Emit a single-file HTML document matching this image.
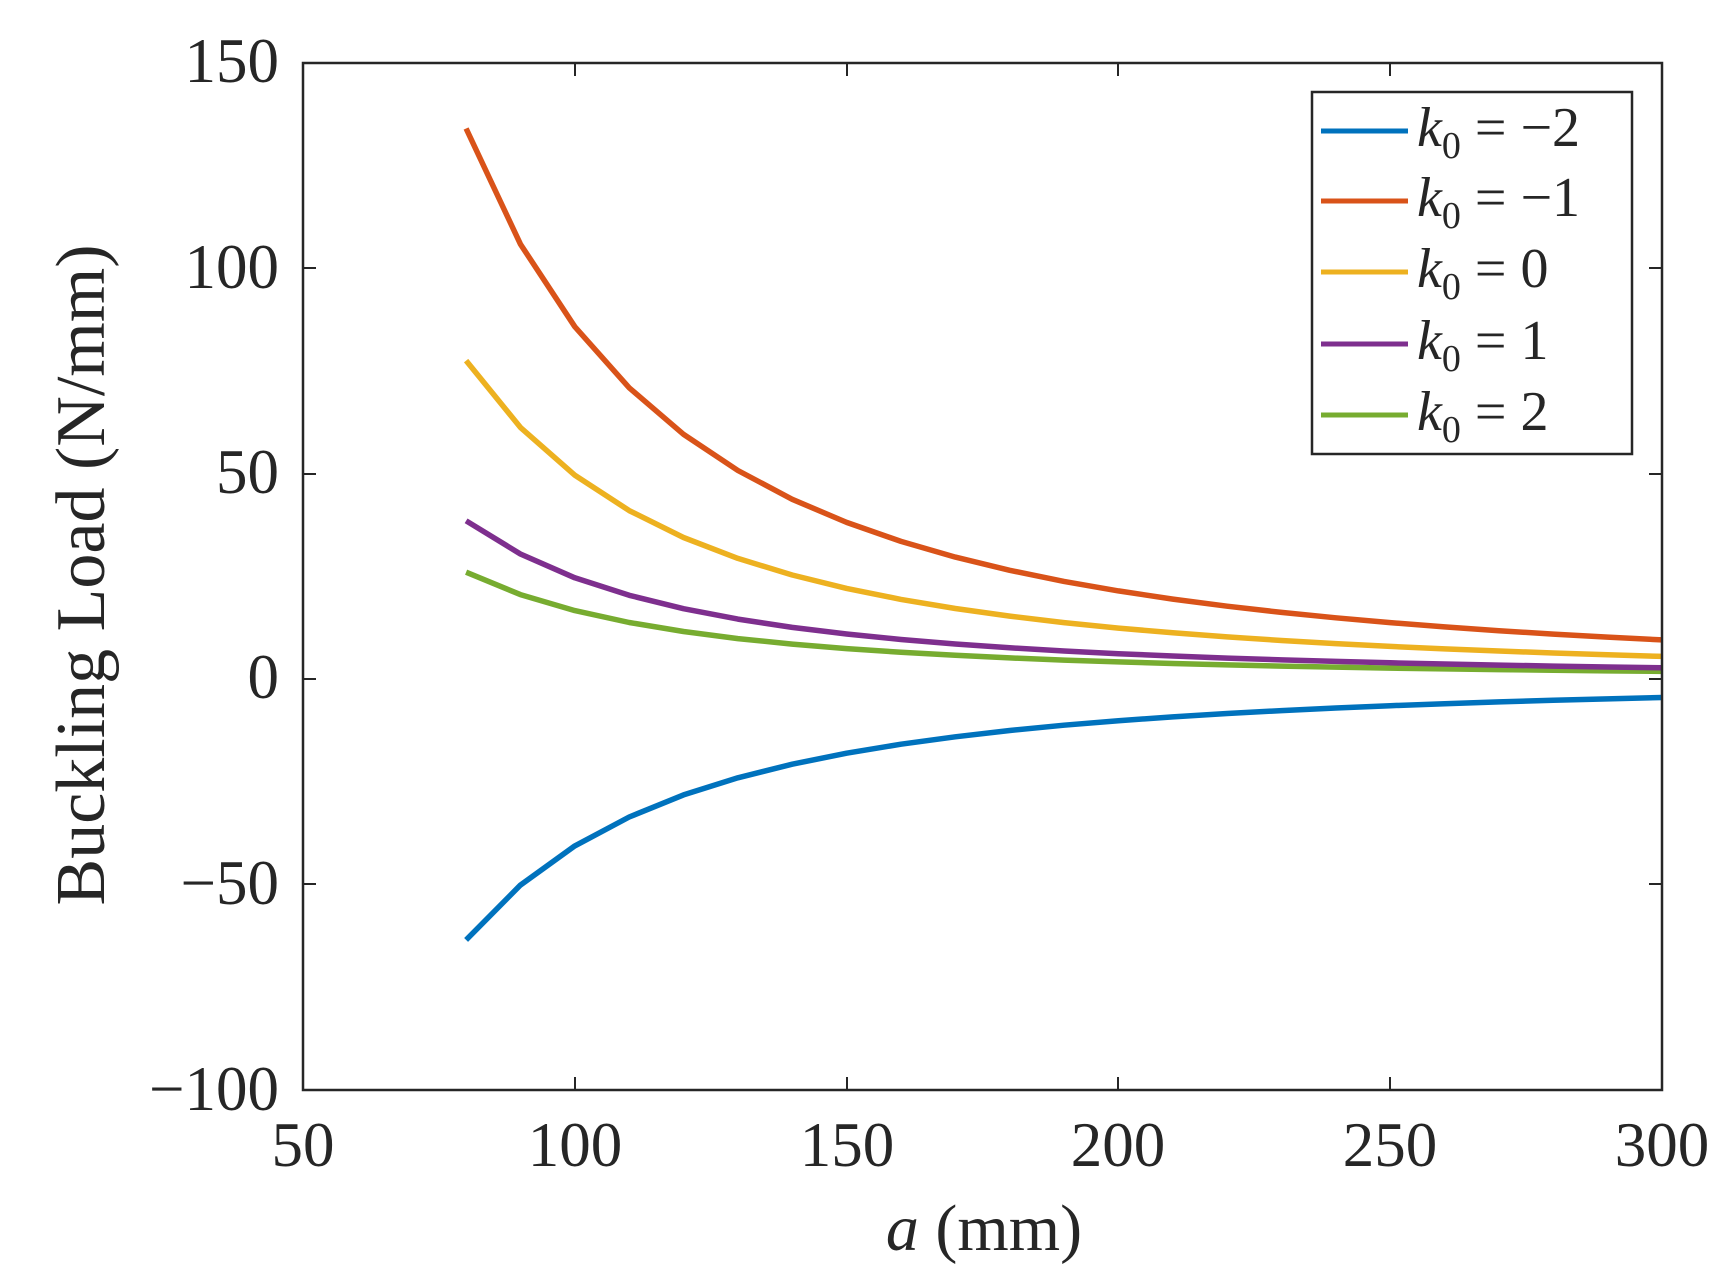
<!DOCTYPE html>
<html><head><style>
html,body{margin:0;padding:0;background:#fff;}
svg{display:block;}
text{font-family:"Liberation Serif",serif;fill:#262626;}
</style></head><body>
<svg width="1735" height="1271" viewBox="0 0 1735 1271" xmlns="http://www.w3.org/2000/svg">
<rect width="1735" height="1271" fill="#fff"/>
<g id="curves" fill="none" stroke-width="5.5" stroke-linejoin="round"></g>
<rect x="303" y="63" width="1359" height="1027" fill="none" stroke="#262626" stroke-width="2.5"/>
<g stroke="#262626" stroke-width="2">
<line x1="575" y1="1090" x2="575" y2="1077"/><line x1="847" y1="1090" x2="847" y2="1077"/><line x1="1118" y1="1090" x2="1118" y2="1077"/><line x1="1390" y1="1090" x2="1390" y2="1077"/>
<line x1="575" y1="63" x2="575" y2="76"/><line x1="847" y1="63" x2="847" y2="76"/><line x1="1118" y1="63" x2="1118" y2="76"/><line x1="1390" y1="63" x2="1390" y2="76"/>
<line x1="303" y1="268" x2="316" y2="268"/><line x1="303" y1="474" x2="316" y2="474"/><line x1="303" y1="679" x2="316" y2="679"/><line x1="303" y1="884" x2="316" y2="884"/>
<line x1="1662" y1="268" x2="1649" y2="268"/><line x1="1662" y1="474" x2="1649" y2="474"/><line x1="1662" y1="679" x2="1649" y2="679"/><line x1="1662" y1="884" x2="1649" y2="884"/>
</g>
<g font-size="63" text-anchor="end">
<text x="279" y="82">150</text><text x="279" y="288">100</text><text x="279" y="493">50</text><text x="279" y="698">0</text><text x="279" y="904">−50</text><text x="279" y="1110">−100</text>
</g>
<g font-size="63" text-anchor="middle">
<text x="303" y="1166">50</text><text x="575" y="1166">100</text><text x="847" y="1166">150</text><text x="1118" y="1166">200</text><text x="1390" y="1166">250</text><text x="1662" y="1166">300</text>
</g>
<text x="984" y="1250" font-size="66" text-anchor="middle"><tspan font-style="italic">a</tspan> (mm)</text>
<text transform="translate(104,575) rotate(-90)" font-size="70" text-anchor="middle">Buckling Load (N/mm)</text>
<rect x="1312" y="92" width="320" height="362" fill="#fff" stroke="#262626" stroke-width="2.5"/>
<g stroke-width="5">
<line x1="1321" y1="131" x2="1408" y2="131" stroke="#0072BD"/>
<line x1="1321" y1="201" x2="1408" y2="201" stroke="#D95319"/>
<line x1="1321" y1="272" x2="1408" y2="272" stroke="#EDB120"/>
<line x1="1321" y1="344" x2="1408" y2="344" stroke="#7E2F8E"/>
<line x1="1321" y1="415" x2="1408" y2="415" stroke="#77AC30"/>
</g>
<g font-size="56">
<text x="1417" y="146"><tspan font-style="italic">k</tspan><tspan font-size="38" dy="12">0</tspan><tspan dy="-12"> = −2</tspan></text>
<text x="1417" y="216"><tspan font-style="italic">k</tspan><tspan font-size="38" dy="12">0</tspan><tspan dy="-12"> = −1</tspan></text>
<text x="1417" y="287"><tspan font-style="italic">k</tspan><tspan font-size="38" dy="12">0</tspan><tspan dy="-12"> = 0</tspan></text>
<text x="1417" y="359"><tspan font-style="italic">k</tspan><tspan font-size="38" dy="12">0</tspan><tspan dy="-12"> = 1</tspan></text>
<text x="1417" y="430"><tspan font-style="italic">k</tspan><tspan font-size="38" dy="12">0</tspan><tspan dy="-12"> = 2</tspan></text>
</g>
</svg>
<script>
(function(){
var series=[[-63.5,"#0072BD"],[134,"#D95319"],[77.5,"#EDB120"],[38.5,"#7E2F8E"],[26,"#77AC30"]];
var g=document.getElementById("curves");var order=[4,3,2,1,0];
order.forEach(function(i){var s=series[i];var pts=[];
for(var a=80;a<=300;a+=10){var v=s[0]*Math.pow(80/a,2);var x=303+(a-50)*5.436;var y=679-v*4.108;pts.push(x.toFixed(1)+","+y.toFixed(1));}
var p=document.createElementNS("http://www.w3.org/2000/svg","polyline");p.setAttribute("points",pts.join(" "));p.setAttribute("stroke",s[1]);g.appendChild(p);});
})();
</script>
</body></html>
